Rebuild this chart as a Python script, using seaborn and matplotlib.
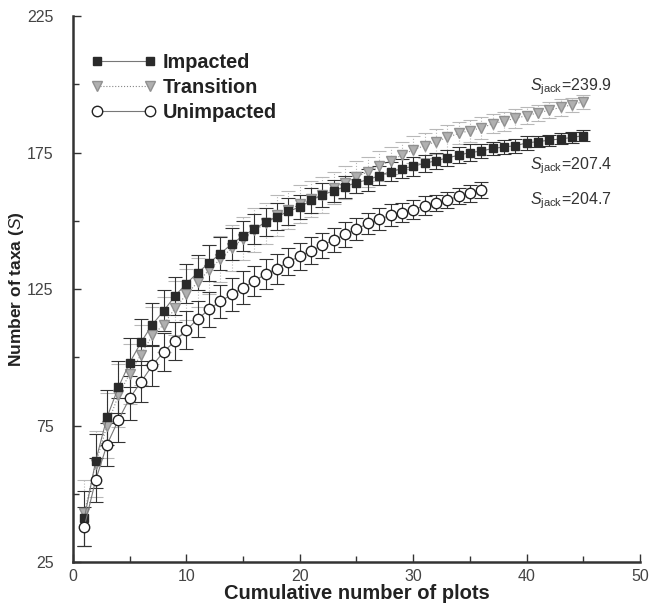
import matplotlib
matplotlib.use('Agg')
import matplotlib.pyplot as plt
from matplotlib.ticker import FixedLocator, MultipleLocator
import seaborn as sns
import pandas as pd
import numpy as np

# cumulative number of plots
plots_long = list(range(1, 46))
plots_short = list(range(1, 37))

impacted = [41, 62, 78, 89, 98, 105.5, 112, 117, 122.5, 127,
            131, 134.5, 138, 141.5, 144.5, 147, 149.5, 151.5, 153.5, 155,
            157.5, 159.5, 161, 162.5, 164, 165, 166.5, 168, 169, 170,
            171, 172, 173, 174, 175, 175.5, 176.5, 177, 177.5, 178.5,
            179, 179.5, 180, 180.5, 181.2]
impacted_sd = [10, 10, 10, 9.5, 9, 8.5, 8, 7.5, 7, 7,
               6.5, 6.5, 6, 6, 5.5, 5.5, 5, 5, 5, 4.5,
               4.5, 4.5, 4, 4, 4, 4, 3.5, 3.5, 3.5, 3.5,
               3, 3, 3, 3, 3, 2.5, 2.5, 2.5, 2.5, 2.5,
               2, 2, 2, 2, 2]

transition = [43, 61, 75, 86, 94, 101, 108, 112, 118, 123,
              127.5, 132, 136, 140, 143.5, 146.5, 149, 152, 154, 156,
              158, 159.5, 162, 164, 166, 168, 170, 172, 174, 176,
              177.5, 179, 180.5, 182, 183, 184, 185.5, 186.5, 187.5, 188.5,
              189.5, 190.5, 191.5, 192.5, 193.6]
transition_sd = [12, 12, 12, 11.5, 11, 11, 10.5, 10, 10, 9.5,
                 9, 9, 8.5, 8.5, 8, 8, 7.5, 7.5, 7, 7,
                 6.5, 6.5, 6, 6, 6, 5.5, 5.5, 5, 5, 5,
                 4.5, 4.5, 4.5, 4, 4, 4, 3.5, 3.5, 3.5, 3,
                 3, 3, 3, 2.5, 2.5]

unimpacted = [38, 55, 68, 77, 85, 91, 97, 102, 106, 110,
              114, 117.5, 120.5, 123, 125.5, 128, 130.5, 132.5, 135, 137,
              139, 141, 143, 145, 147, 149, 150.5, 152, 153, 154,
              155.5, 156.5, 157.5, 159, 160, 161.3]
unimpacted_sd = [7, 8, 8, 8, 8, 7.5, 7.5, 7, 7, 7,
                 6.5, 6.5, 6, 6, 6, 5.5, 5.5, 5.5, 5, 5,
                 5, 4.5, 4.5, 4.5, 4, 4, 4, 4, 3.5, 3.5,
                 3.5, 3, 3, 3, 3, 3]

jack_labels = ['239.9', '207.4', '204.7']
jack_pos = [(40.3, 199.0), (40.3, 170.0), (40.3, 157.5)]

y_ticks = [25, 75, 125, 175, 225]
y_minor = [50, 100, 150, 200]

df = pd.concat([
    pd.DataFrame({'plots': plots_long, 'S': impacted, 'sd': impacted_sd, 'site': 'Impacted'}),
    pd.DataFrame({'plots': plots_long, 'S': transition, 'sd': transition_sd, 'site': 'Transition'}),
    pd.DataFrame({'plots': plots_short, 'S': unimpacted, 'sd': unimpacted_sd, 'site': 'Unimpacted'}),
])

sns.set_theme(style='ticks')
plt.rcParams['font.family'] = ['Liberation Sans', 'DejaVu Sans']
plt.rcParams['mathtext.fontset'] = 'custom'
plt.rcParams['mathtext.rm'] = 'Liberation Sans'
plt.rcParams['mathtext.it'] = 'Liberation Sans:italic'
plt.rcParams['mathtext.bf'] = 'Liberation Sans:bold'

fig = plt.figure(figsize=(6.5, 6.04), dpi=100)
ax = fig.add_axes([0.1123, 0.0695, 0.8723, 0.904])

styles = {
    'Impacted': dict(marker='s', mfc='#2a2a2a', mec='#2a2a2a', ms=6, ls='-', lc='#777777', ec='#333333', ecls='-'),
    'Transition': dict(marker='v', mfc='#b0b0b0', mec='#909090', ms=6.5, ls=':', lc='#888888', ec='#b8b8b8', ecls=':'),
    'Unimpacted': dict(marker='o', mfc='white', mec='#222222', ms=7.5, ls='-', lc='#777777', ec='#333333', ecls='-'),
}

for site in ['Transition', 'Impacted', 'Unimpacted']:
    sub = df[df['site'] == site]
    st = styles[site]
    eb = ax.errorbar(sub['plots'], sub['S'], yerr=sub['sd'], fmt='none', ecolor=st['ec'],
                     elinewidth=0.8, capsize=5, capthick=0.8, zorder=2)
    eb[2][0].set_linestyle(st['ecls'])

for site in ['Transition', 'Impacted', 'Unimpacted']:
    sub = df[df['site'] == site]
    st = styles[site]
    sns.lineplot(data=sub, x='plots', y='S', ax=ax, color=st['lc'], linestyle=st['ls'],
                 linewidth=0.8, marker=st['marker'], markersize=st['ms'],
                 markerfacecolor=st['mfc'], markeredgecolor=st['mec'], markeredgewidth=1.0,
                 label=site, zorder=3)

handles, labels = ax.get_legend_handles_labels()
order = [labels.index(s) for s in ['Impacted', 'Transition', 'Unimpacted']]
leg = ax.legend([handles[i] for i in order], [labels[i] for i in order],
                loc='upper left', bbox_to_anchor=(0.0, 0.965), frameon=False,
                numpoints=2, handlelength=3.3, handletextpad=0.3, labelspacing=0.3,
                prop={'weight': 'bold', 'size': 14.3})
for t in leg.get_texts():
    t.set_color('#222222')

for lab, (px, py) in zip(jack_labels, jack_pos):
    ax.text(px, py, r'$S_{\mathrm{jack}}$=' + lab, fontsize=11.5, color='#333333',
            va='center', ha='left')

ax.set_xlim(0, 50)
ax.set_ylim(25, 225)
ax.xaxis.set_major_locator(MultipleLocator(10))
ax.xaxis.set_minor_locator(MultipleLocator(5))
ax.yaxis.set_major_locator(FixedLocator(y_ticks))
ax.yaxis.set_minor_locator(FixedLocator(y_minor))
ax.tick_params(which='both', direction='in', colors='#333333', labelcolor='#444444',
               labelsize=11.5, width=1)
ax.tick_params(which='major', length=6)
ax.tick_params(which='minor', length=4)
ax.tick_params(axis='y', pad=14)
ax.tick_params(axis='x', pad=5)

sns.despine(ax=ax)
for s in ['left', 'bottom']:
    ax.spines[s].set_linewidth(1.8)
    ax.spines[s].set_color('#333333')

ax.set_xlabel('Cumulative number of plots', fontsize=14.5, fontweight='bold', color='#222222', labelpad=0)
ax.set_ylabel(r'Number of taxa ($\mathit{S}$)', fontsize=12.5, fontweight='bold', color='#222222', labelpad=1)

fig.savefig('out.png', dpi=100)
